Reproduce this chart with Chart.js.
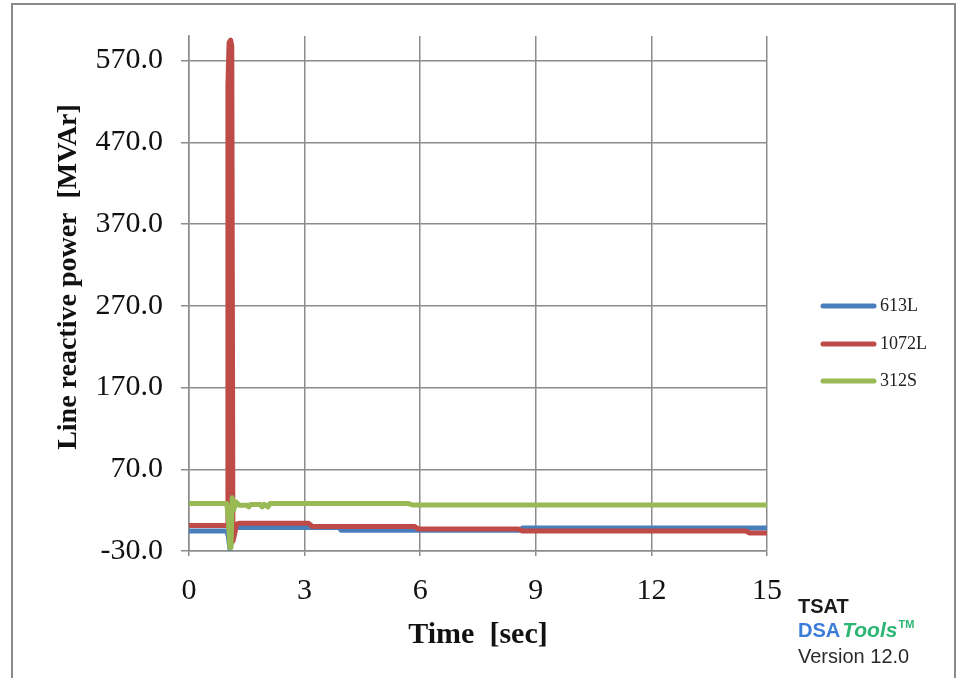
<!DOCTYPE html>
<html>
<head>
<meta charset="utf-8">
<script src="https://cdn.jsdelivr.net/npm/chart.js@4/dist/chart.umd.min.js"></script>
<style>
  body { margin: 0; background: #fff; }
  canvas { display: block; }
</style>
</head>
<body>
<canvas id="chart" width="958" height="678"></canvas>
<script>
// values (time in sec, Q in MVAr)
const seriesNames = ['613L', '1072L', '312S'];
const seriesColors = ['#4a7ebb', '#be4b48', '#98b954'];

const t613 = [0, 0.98, 1.02, 1.06, 1.1, 1.18, 1.3, 3.9, 3.95, 8.6, 8.65, 15];
const q613 = [-5.5, -5.5, -12, -27, -20, -1, -1.4, -1.4, -4.7, -4.7, -2, -2];

const t1072 = [0, 0.99, 1.01, 1.04, 1.08, 1.11, 1.14, 1.18, 1.24, 1.32, 3.1, 3.2, 5.85, 5.95, 8.55, 8.65, 14.45, 14.55, 15];
const q1072 = [1.3, 1.3, 540, 592, 595, 588, -18, -10, 3, 4, 4, 0, 0, -3, -3, -5.5, -5.5, -8, -8];

const t312 = [0, 0.98, 1.02, 1.06, 1.09, 1.12, 1.16, 1.22, 1.3, 1.5, 1.55, 1.6, 1.85, 1.9, 1.95, 2.05, 2.1, 2.2, 5.7, 5.8, 15];
const q312 = [28, 28, 10, -26, -26, 35, 20, 30, 26, 26, 24, 27, 27, 24, 27, 24, 28, 28, 28, 26.3, 26.3];

const yTicks = [-30, 70, 170, 270, 370, 470, 570];
const xTicks = [0, 3, 6, 9, 12, 15];

const pts = (ts, qs) => ts.map((t, i) => ({ x: t, y: qs[i] }));

const serif = "'Liberation Serif', 'Times New Roman', serif";
const sans = "'Liberation Sans', Arial, sans-serif";

const decor = {
  id: 'decor',
  afterDraw(chart) {
    const c = chart.ctx;
    const a = chart.chartArea;
    c.save();
    // outer frame
    c.strokeStyle = '#8a8a8a';
    c.lineWidth = 2;
    c.beginPath();
    c.moveTo(12, 678);
    c.lineTo(12, 4);
    c.lineTo(955, 4);
    c.lineTo(955, 678);
    c.stroke();

    // axis titles
    c.fillStyle = '#111';
    c.font = 'bold 28px ' + serif;
    c.textAlign = 'center';
    c.textBaseline = 'middle';
    c.save();
    c.translate(69, 277);
    c.rotate(-Math.PI / 2);
    c.fillText('Line reactive power  [MVAr]', 0, 0);
    c.restore();
    c.font = 'bold 30px ' + serif;
    c.textBaseline = 'alphabetic';
    c.fillText('Time  [sec]', (a.left + a.right) / 2, 643);

    // legend
    const ly = [306, 344, 381];
    c.lineCap = 'round';
    c.lineWidth = 5;
    c.textAlign = 'left';
    c.textBaseline = 'middle';
    c.font = '18px ' + serif;
    seriesNames.forEach((n, i) => {
      c.strokeStyle = seriesColors[i];
      c.beginPath();
      c.moveTo(823, ly[i]);
      c.lineTo(874, ly[i]);
      c.stroke();
      c.fillStyle = '#222';
      c.fillText(n, 880, ly[i]);
    });

    // TSAT stamp
    c.textBaseline = 'alphabetic';
    c.fillStyle = '#1a1a1a';
    c.font = 'bold 20px ' + sans;
    c.fillText('TSAT', 798, 613);
    c.fillStyle = '#3b7dd8';
    c.fillText('DSA', 798, 637);
    let x = 798 + c.measureText('DSA').width + 2;
    c.fillStyle = '#2bb673';
    c.font = 'italic bold 21px ' + sans;
    c.fillText('Tools', x, 637);
    x += c.measureText('Tools').width + 1;
    c.font = 'bold 11px ' + sans;
    c.fillText('TM', x, 628);
    c.fillStyle = '#2a2a2a';
    c.font = '20px ' + sans;
    c.fillText('Version 12.0', 798, 663);
    c.restore();
  }
};

new Chart(document.getElementById('chart').getContext('2d'), {
  type: 'line',
  data: {
    datasets: [
      { label: seriesNames[0], data: pts(t613, q613), borderColor: seriesColors[0], order: 3 },
      { label: seriesNames[1], data: pts(t1072, q1072), borderColor: seriesColors[1], order: 2 },
      { label: seriesNames[2], data: pts(t312, q312), borderColor: seriesColors[2], order: 1 }
    ]
  },
  options: {
    responsive: false,
    animation: false,
    layout: { padding: { left: 0, right: 191, top: 33, bottom: 0 } },
    elements: {
      line: { borderWidth: 5, tension: 0, borderJoinStyle: 'round', borderCapStyle: 'round' },
      point: { radius: 0 }
    },
    plugins: {
      legend: { display: false },
      tooltip: { enabled: false }
    },
    scales: {
      x: {
        type: 'linear',
        min: 0,
        max: 15,
        afterFit: s => { s.height = 127; },
        afterBuildTicks: s => { s.ticks = xTicks.map(v => ({ value: v })); },
        grid: { color: '#8c8c8c', lineWidth: 1.5, tickLength: 5 },
        border: { color: '#8c8c8c', width: 1.5 },
        ticks: { color: '#111', padding: 17, maxRotation: 0, font: { family: serif, size: 30 }, callback: v => String(v) }
      },
      y: {
        min: -30,
        max: 600,
        afterFit: s => { s.width = 189; },
        afterBuildTicks: s => { s.ticks = yTicks.map(v => ({ value: v })); },
        grid: { color: '#8c8c8c', lineWidth: 1.5, tickLength: 8 },
        border: { color: '#8c8c8c', width: 1.5 },
        ticks: { color: '#111', padding: 18, font: { family: serif, size: 30 }, callback: v => v.toFixed(1) }
      }
    }
  },
  plugins: [decor]
});
</script>
</body>
</html>
